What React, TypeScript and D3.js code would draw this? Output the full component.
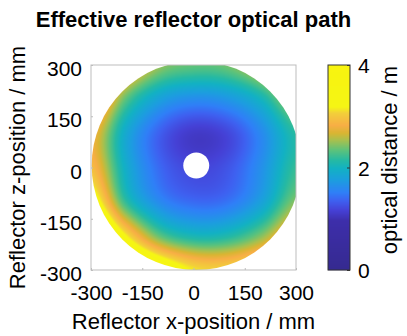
import * as d3 from 'd3';
import { useEffect, useRef } from 'react';

const xTicks = [-300, -150, 0, 150, 300];
const zTicks = [-300, -150, 0, 150, 300];
const cTicks = [0, 2, 4];

const gridX = [-300, -200, -100, 0, 100, 200, 300];
const gridZ = [300, 200, 100, 0, -100, -200, -300];
// optical distance / m, one row per gridZ entry, columns follow gridX
const pathRows = [
  [4.15, 3.1, 2.5, 2.35, 2.4, 2.75, 3.4],
  [3.4, 2.35, 1.8, 1.62, 1.7, 2.02, 2.65],
  [2.85, 1.9, 1.35, 1.1, 1.2, 1.6, 2.15],
  [2.95, 1.95, 1.4, 1.2, 1.28, 1.65, 2.2],
  [3.45, 2.2, 1.6, 1.4, 1.45, 1.8, 2.45],
  [4.3, 3.2, 2.35, 2.05, 2.1, 2.45, 3.1],
  [5.0, 4.2, 3.6, 3.15, 3.1, 3.4, 4.05],
];

// reflector geometry (mm): centre, outer radius, central hole radius
const reflectorCentre = [8, 6];
const reflectorRadius = 306;
const holeRadius = 38;

// colour map stops
const cmapValues = [0, 0.96, 1.16, 1.35, 1.51, 1.75, 1.98, 2.14, 2.33, 2.53, 2.67, 2.82, 3.06, 3.18, 4];
const cmapColors = ['#352a90', '#3d2eaa', '#4540d5', '#3e60f0', '#2f7ff7', '#1c9ddf', '#12b1c3', '#25b9a3', '#5ac27c', '#a7c04e', '#d9b532', '#f7ae45', '#f2cf3a', '#f5f514', '#f8f40f'];

const FONT = '"Liberation Sans", Arial, Helvetica, sans-serif';

function catmull(p0: number, p1: number, p2: number, p3: number, t: number) {
  return 0.5 * (2 * p1 + (-p0 + p2) * t + (2 * p0 - 5 * p1 + 4 * p2 - p3) * t * t + (-p0 + 3 * p1 - 3 * p2 + p3) * t * t * t);
}

export default function App() {
  const ref = useRef<SVGSVGElement | null>(null);

  useEffect(() => {
    const svg = d3.select(ref.current);
    svg.selectAll('*').remove();
    const box = { left: 91, top: 65, right: 296, bottom: 270 };
    const x = d3.scaleLinear().domain([-300, 300]).range([box.left, box.right]);
    const z = d3.scaleLinear().domain([-300, 300]).range([box.bottom, box.top]);
    const color = d3.scaleLinear<string>().domain(cmapValues).range(cmapColors).interpolate(d3.interpolateRgb).clamp(true);

    // grid index scales
    const gi = d3.scaleLinear().domain([gridX[0], gridX[gridX.length - 1]]).range([0, gridX.length - 1]);
    const gj = d3.scaleLinear().domain([gridZ[0], gridZ[gridZ.length - 1]]).range([0, gridZ.length - 1]);
    const nI = gridX.length, nJ = gridZ.length;
    const at = (j: number, i: number) => pathRows[Math.max(0, Math.min(nJ - 1, j))][Math.max(0, Math.min(nI - 1, i))];
    const sample = (xv: number, zv: number) => {
      const fi = gi(xv), fj = gj(zv);
      const i0 = Math.min(nI - 2, Math.max(0, Math.floor(fi)));
      const j0 = Math.min(nJ - 2, Math.max(0, Math.floor(fj)));
      const ti = fi - i0, tj = fj - j0;
      const rows = [-1, 0, 1, 2].map((dj) =>
        catmull(at(j0 + dj, i0 - 1), at(j0 + dj, i0), at(j0 + dj, i0 + 1), at(j0 + dj, i0 + 2), ti)
      );
      return catmull(rows[0], rows[1], rows[2], rows[3], tj);
    };

    // field image
    const w = box.right - box.left;
    const h = box.bottom - box.top;
    const canvas = document.createElement('canvas');
    canvas.width = w;
    canvas.height = h;
    const ctx = canvas.getContext('2d')!;
    const img = ctx.createImageData(w, h);
    for (let j = 0; j < h; j++) {
      for (let i = 0; i < w; i++) {
        const c = d3.rgb(color(sample(x.invert(box.left + i + 0.5), z.invert(box.top + j + 0.5))));
        const k = (j * w + i) * 4;
        img.data[k] = c.r;
        img.data[k + 1] = c.g;
        img.data[k + 2] = c.b;
        img.data[k + 3] = 255;
      }
    }
    ctx.putImageData(img, 0, 0);

    const cx = x(reflectorCentre[0]);
    const cz = z(reflectorCentre[1]);
    const rPx = x(reflectorRadius) - x(0);
    const hPx = x(holeRadius) - x(0);

    const defs = svg.append('defs');
    defs.append('clipPath').attr('id', 'disk').append('circle').attr('cx', cx).attr('cy', cz).attr('r', rPx);

    svg
      .append('image')
      .attr('href', canvas.toDataURL())
      .attr('x', box.left)
      .attr('y', box.top)
      .attr('width', w)
      .attr('height', h)
      .attr('preserveAspectRatio', 'none')
      .attr('clip-path', 'url(#disk)');
    svg.append('circle').attr('cx', cx).attr('cy', cz).attr('r', hPx).attr('fill', '#fff');

    // axes box
    svg
      .append('rect')
      .attr('x', box.left)
      .attr('y', box.top)
      .attr('width', w)
      .attr('height', h)
      .attr('fill', 'none')
      .attr('stroke', '#bdbdbd')
      .attr('stroke-width', 1);

    const styleAxis = (g: d3.Selection<SVGGElement, unknown, null, undefined>, col: string) => {
      g.attr('font-family', FONT).attr('font-size', 21);
      g.select('.domain').remove();
      g.selectAll('line').attr('stroke', col);
      g.selectAll('text').attr('fill', '#000');
    };
    const fmt = (d: d3.NumberValue) => String(d);

    const gx = svg
      .append('g')
      .attr('transform', `translate(0,${box.bottom})`)
      .call(d3.axisBottom(x).tickValues(xTicks).tickSizeInner(-2).tickSizeOuter(0).tickPadding(15).tickFormat(fmt));
    styleAxis(gx, '#bdbdbd');
    const gz = svg
      .append('g')
      .attr('transform', `translate(${box.left},0)`)
      .call(d3.axisLeft(z).tickValues(zTicks).tickSizeInner(-2).tickSizeOuter(0).tickPadding(9).tickFormat(fmt));
    styleAxis(gz, '#bdbdbd');
    gz.selectAll('text').attr('dy', '0.5em');

    // colour bar
    const cb = { left: 328, right: 350, top: box.top, bottom: box.bottom };
    const c = d3.scaleLinear().domain([0, 4]).range([cb.bottom, cb.top]);
    const strips = d3.range(cb.top, cb.bottom);
    svg
      .append('g')
      .selectAll('rect')
      .data(strips)
      .enter()
      .append('rect')
      .attr('x', cb.left)
      .attr('y', (d) => d)
      .attr('width', cb.right - cb.left)
      .attr('height', 1.2)
      .attr('fill', (d) => color(c.invert(d + 0.5)));
    svg
      .append('rect')
      .attr('x', cb.left)
      .attr('y', cb.top)
      .attr('width', cb.right - cb.left)
      .attr('height', cb.bottom - cb.top)
      .attr('fill', 'none')
      .attr('stroke', '#333')
      .attr('stroke-width', 1);
    const gc = svg
      .append('g')
      .attr('transform', `translate(${cb.right},0)`)
      .call(d3.axisRight(c).tickValues(cTicks).tickSizeInner(-3).tickSizeOuter(0).tickPadding(8).tickFormat(fmt));
    styleAxis(gc, '#333');
    gc.selectAll('text').attr('dy', '0.36em');

    // texts
    svg
      .append('text')
      .attr('x', (box.left + box.right) / 2)
      .attr('y', 27)
      .attr('text-anchor', 'middle')
      .attr('font-family', FONT)
      .attr('font-size', 22)
      .attr('font-weight', 'bold')
      .text('Effective reflector optical path');
    svg
      .append('text')
      .attr('x', (box.left + box.right) / 2)
      .attr('y', 329)
      .attr('text-anchor', 'middle')
      .attr('font-family', FONT)
      .attr('font-size', 22)
      .text('Reflector x-position / mm');
    svg
      .append('text')
      .attr('transform', `translate(25,${(box.top + box.bottom) / 2}) rotate(-90)`)
      .attr('text-anchor', 'middle')
      .attr('font-family', FONT)
      .attr('font-size', 22)
      .text('Reflector z-position / mm');
    svg
      .append('text')
      .attr('transform', `translate(397,160) rotate(-90)`)
      .attr('text-anchor', 'middle')
      .attr('font-family', FONT)
      .attr('font-size', 22)
      .text('optical distance / m');
  }, []);

  return <svg ref={ref} width={407} height={336} style={{ position: 'absolute', left: 0, top: 0, background: '#fff' }} />;
}
